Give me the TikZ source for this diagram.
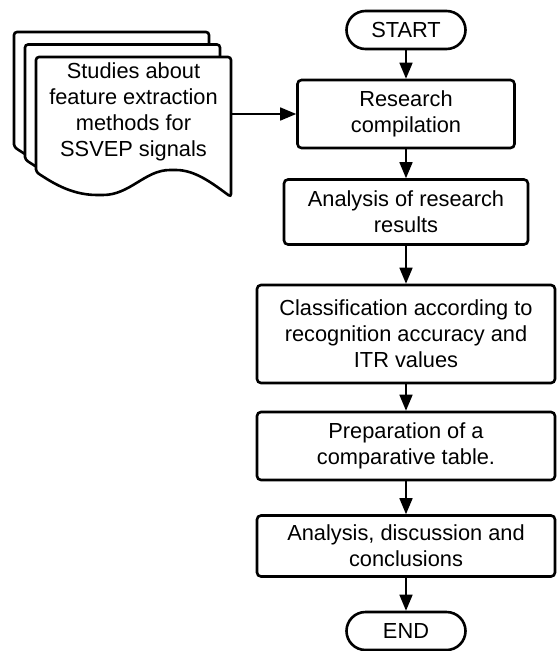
\documentclass[tikz,border=0pt]{standalone}
\usepackage{fontspec}
\setmainfont{Liberation Sans}
\usetikzlibrary{arrows.meta}

\begin{document}
\begin{tikzpicture}[x=1pt, y=-1pt,
    every node/.style={font=\fontsize{21.8}{26}\selectfont, align=center},
    process/.style={draw, line width=2.6pt, rounded corners=4pt, inner sep=0pt},
    terminal/.style={draw, line width=2.6pt, rounded corners=19pt, minimum width=119pt, minimum height=38pt, inner sep=0pt},
    flow/.style={line width=1.6pt, -{Triangle[length=16pt, width=13pt]}},
    page/.style={draw, fill=white, line width=2.6pt, rounded corners=3pt}]
    \useasboundingbox (0,0) rectangle (557,651);
    % stack of documents
    \foreach \dx/\dy in {-22/-25, -11/-12.5, 0/0}
        \draw[page, shift={(\dx,\dy)}] (36,172) -- (36,57) -- (231,57) -- (231,197)
            .. controls (212,183) and (195,170) .. (173,170)
            .. controls (145,170) and (130,195) .. (100,195)
            .. controls (70,195) and (50,181) .. (36,172) -- cycle;
    \node[minimum width=195pt, inner sep=0pt] (studies) at (133.5,112) {Studies about\\feature extraction\\methods for\\SSVEP signals};
    % flow
    \node[terminal] (start) at (406,30) {START};
    \node[process, minimum width=217pt, minimum height=68pt] (compil) at (406,114) {Research\\compilation};
    \node[process, minimum width=244pt, minimum height=65pt] (results) at (406,212) {Analysis of research\\results};
    \node[process, minimum width=298pt, minimum height=98pt] (classif) at (406,334) {Classification according to\\recognition accuracy and\\ITR values};
    \node[process, minimum width=298pt, minimum height=68pt] (table) at (406,446) {Preparation of a\\comparative table.};
    \node[process, minimum width=298pt, minimum height=61pt] (concl) at (406,546) {Analysis, discussion and\\conclusions};
    \node[terminal] (stop) at (406,631) {END};
    \foreach \a/\b in {start/compil, compil/results, results/classif, classif/table, table/concl, concl/stop}
        \draw[flow] (\a) -- (\b);
    \draw[flow] (compil.west -| studies.east) -- (compil.west);
\end{tikzpicture}
\end{document}
